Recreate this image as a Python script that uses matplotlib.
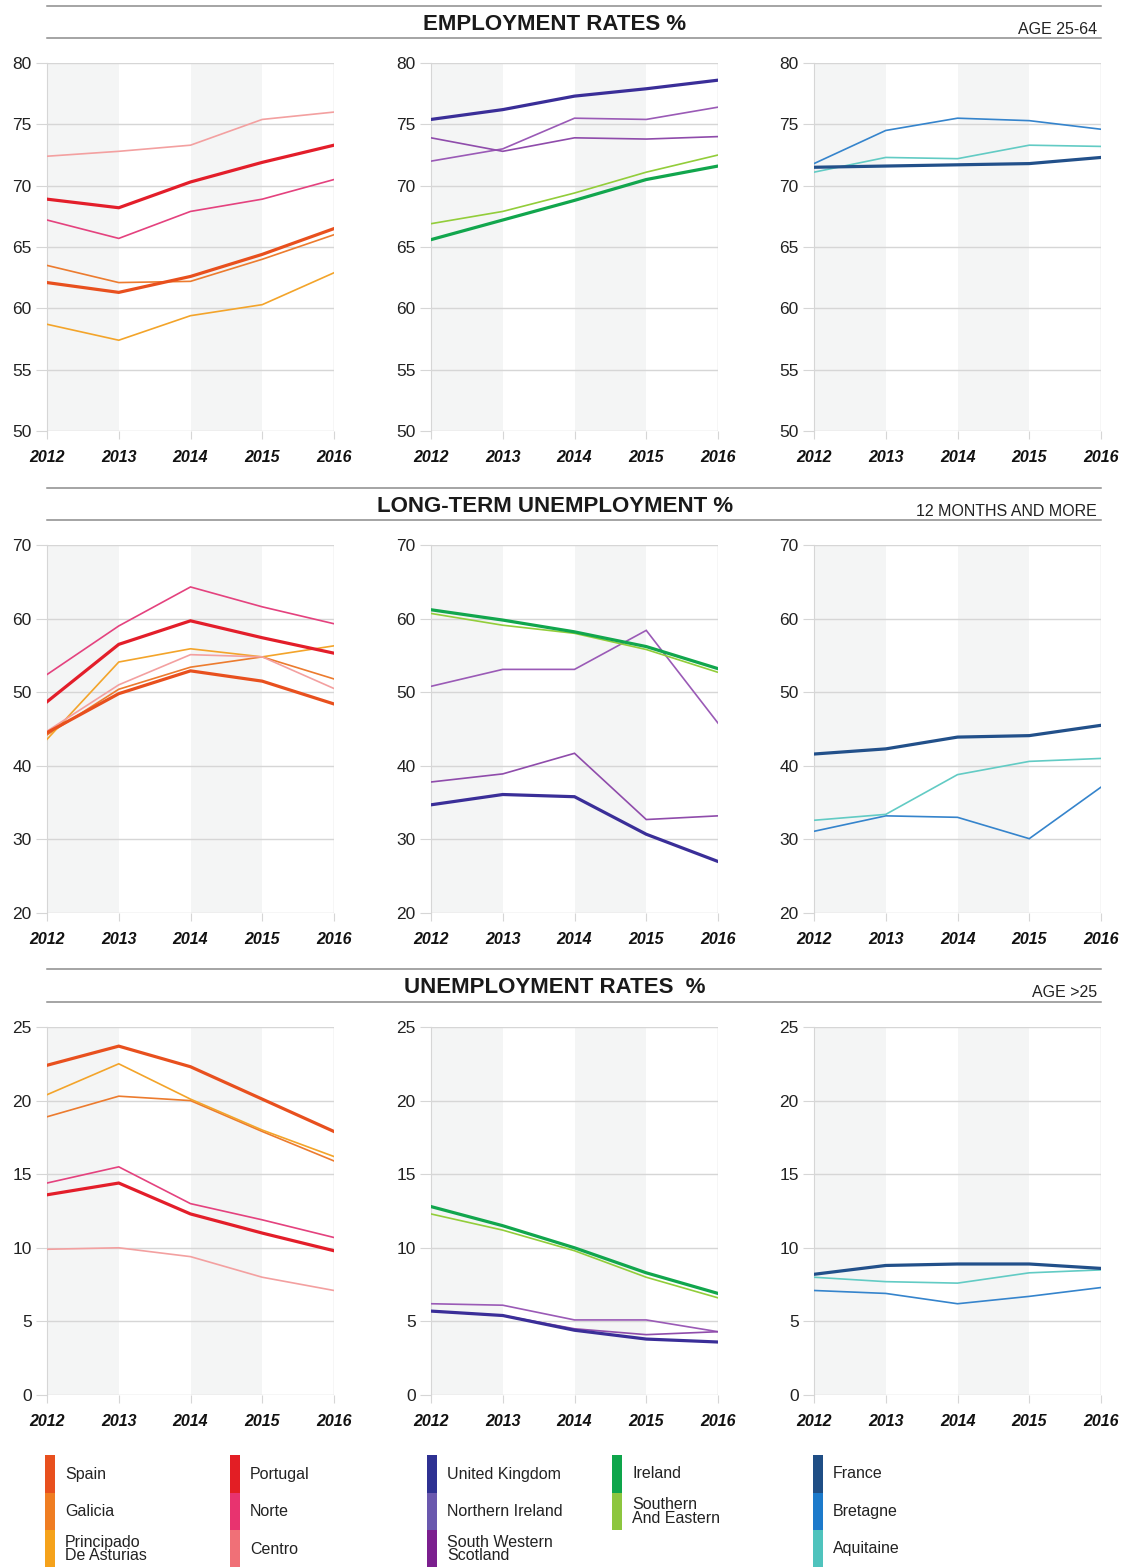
import matplotlib
matplotlib.use("Agg")
import matplotlib.pyplot as plt
from matplotlib.lines import Line2D
from matplotlib.patches import Rectangle

plt.rcParams['font.family'] = ['Liberation Sans', 'DejaVu Sans']
NARROW = ['Liberation Sans Narrow', 'Liberation Sans', 'DejaVu Sans']

years = [2012, 2013, 2014, 2015, 2016]

# --- employment rates %, age 25-64
emp_spain = [62.1, 61.3, 62.6, 64.4, 66.5]
emp_galicia = [63.5, 62.1, 62.2, 64.0, 66.0]
emp_asturias = [58.7, 57.4, 59.4, 60.3, 62.9]
emp_portugal = [68.9, 68.2, 70.3, 71.9, 73.3]
emp_norte = [67.2, 65.7, 67.9, 68.9, 70.5]
emp_centro = [72.4, 72.8, 73.3, 75.4, 76.0]
emp_uk = [75.4, 76.2, 77.3, 77.9, 78.6]
emp_nireland = [72.0, 73.0, 75.5, 75.4, 76.4]
emp_swscotland = [73.9, 72.8, 73.9, 73.8, 74.0]
emp_ireland = [65.6, 67.2, 68.8, 70.5, 71.6]
emp_southeast = [66.9, 67.9, 69.4, 71.1, 72.5]
emp_france = [71.5, 71.6, 71.7, 71.8, 72.3]
emp_bretagne = [71.8, 74.5, 75.5, 75.3, 74.6]
emp_aquitaine = [71.1, 72.3, 72.2, 73.3, 73.2]

# --- long-term unemployment %, 12 months and more
ltu_spain = [44.5, 49.8, 52.9, 51.5, 48.4]
ltu_galicia = [44.2, 50.4, 53.4, 54.8, 51.8]
ltu_asturias = [43.6, 54.1, 55.9, 54.8, 56.3]
ltu_portugal = [48.7, 56.5, 59.7, 57.4, 55.3]
ltu_norte = [52.4, 59.0, 64.3, 61.6, 59.3]
ltu_centro = [44.7, 51.0, 55.1, 54.8, 50.5]
ltu_uk = [34.7, 36.1, 35.8, 30.7, 27.0]
ltu_nireland = [50.8, 53.1, 53.1, 58.4, 45.8]
ltu_swscotland = [37.8, 38.9, 41.7, 32.7, 33.2]
ltu_ireland = [61.2, 59.8, 58.2, 56.2, 53.2]
ltu_southeast = [60.7, 59.1, 58.0, 55.8, 52.7]
ltu_france = [41.6, 42.3, 43.9, 44.1, 45.5]
ltu_bretagne = [31.1, 33.2, 33.0, 30.1, 37.1]
ltu_aquitaine = [32.6, 33.4, 38.8, 40.6, 41.0]

# --- unemployment rates %, age >25
unr_spain = [22.4, 23.7, 22.3, 20.1, 17.9]
unr_galicia = [18.9, 20.3, 20.0, 17.9, 15.9]
unr_asturias = [20.4, 22.5, 20.1, 18.0, 16.2]
unr_portugal = [13.6, 14.4, 12.3, 11.0, 9.8]
unr_norte = [14.4, 15.5, 13.0, 11.9, 10.7]
unr_centro = [9.9, 10.0, 9.4, 8.0, 7.1]
unr_uk = [5.7, 5.4, 4.4, 3.8, 3.6]
unr_nireland = [6.2, 6.1, 5.1, 5.1, 4.3]
unr_swscotland = [5.7, 5.4, 4.5, 4.1, 4.3]
unr_ireland = [12.8, 11.5, 10.0, 8.3, 6.9]
unr_southeast = [12.3, 11.2, 9.8, 8.0, 6.6]
unr_france = [8.2, 8.8, 8.9, 8.9, 8.6]
unr_bretagne = [7.1, 6.9, 6.2, 6.7, 7.3]
unr_aquitaine = [8.0, 7.7, 7.6, 8.3, 8.5]

titles = ['EMPLOYMENT RATES %', 'LONG-TERM UNEMPLOYMENT %', 'UNEMPLOYMENT RATES  %']
notes = ['AGE 25-64', '12 MONTHS AND MORE', 'AGE >25']
ylims = [(50, 80), (20, 70), (0, 25)]
ysteps = [5, 10, 5]

legend_names = [['Spain', 'Galicia', 'Principado\nDe Asturias'],
                ['Portugal', 'Norte', 'Centro'],
                ['United Kingdom', 'Northern Ireland', 'South Western\nScotland'],
                ['Ireland', 'Southern\nAnd Eastern'],
                ['France', 'Bretagne', 'Aquitaine']]
legend_colors = [['#e8501e', '#ef7d22', '#f5a21b'],
                 ['#e31e24', '#e8336f', '#f07077'],
                 ['#2e3192', '#6a58ae', '#7b1f8e'],
                 ['#0ea54b', '#8dc63f'],
                 ['#1f4e85', '#1c7acb', '#4fc3bd']]

# colours of the lines (thin ones are a bit paler)
c = {'spain': '#e8501e', 'galicia': '#ec7b2e', 'asturias': '#f3a42a',
     'portugal': '#e31e2a', 'norte': '#e4427e', 'centro': '#f3a0a0',
     'uk': '#3a2e98', 'nireland': '#9a5ab6', 'swscotland': '#8f4cab',
     'ireland': '#11a64d', 'southeast': '#92cd3a',
     'france': '#22508a', 'bretagne': '#3584cc', 'aquitaine': '#62cbc4'}

rows = [
    [[(emp_galicia, 'galicia', 1.2), (emp_asturias, 'asturias', 1.2), (emp_norte, 'norte', 1.2),
      (emp_centro, 'centro', 1.2), (emp_spain, 'spain', 2.3), (emp_portugal, 'portugal', 2.3)],
     [(emp_nireland, 'nireland', 1.2), (emp_swscotland, 'swscotland', 1.2), (emp_southeast, 'southeast', 1.2),
      (emp_uk, 'uk', 2.3), (emp_ireland, 'ireland', 2.3)],
     [(emp_bretagne, 'bretagne', 1.2), (emp_aquitaine, 'aquitaine', 1.2), (emp_france, 'france', 2.3)]],
    [[(ltu_galicia, 'galicia', 1.2), (ltu_asturias, 'asturias', 1.2), (ltu_norte, 'norte', 1.2),
      (ltu_centro, 'centro', 1.2), (ltu_spain, 'spain', 2.3), (ltu_portugal, 'portugal', 2.3)],
     [(ltu_nireland, 'nireland', 1.2), (ltu_swscotland, 'swscotland', 1.2), (ltu_southeast, 'southeast', 1.2),
      (ltu_uk, 'uk', 2.3), (ltu_ireland, 'ireland', 2.3)],
     [(ltu_bretagne, 'bretagne', 1.2), (ltu_aquitaine, 'aquitaine', 1.2), (ltu_france, 'france', 2.3)]],
    [[(unr_galicia, 'galicia', 1.2), (unr_asturias, 'asturias', 1.2), (unr_norte, 'norte', 1.2),
      (unr_centro, 'centro', 1.2), (unr_spain, 'spain', 2.3), (unr_portugal, 'portugal', 2.3)],
     [(unr_nireland, 'nireland', 1.2), (unr_swscotland, 'swscotland', 1.2), (unr_southeast, 'southeast', 1.2),
      (unr_uk, 'uk', 2.3), (unr_ireland, 'ireland', 2.3)],
     [(unr_bretagne, 'bretagne', 1.2), (unr_aquitaine, 'aquitaine', 1.2), (unr_france, 'france', 2.3)]],
]

W, H = 1125, 1567
fig = plt.figure(figsize=(W / 100, H / 100), dpi=100)

col_left = [47, 431, 814]
col_w = 287
row_top = [63, 545, 1027]
row_h = 368
head_lines = [(6, 38), (488, 520), (969, 1002)]
grey = '#d6d6d6'

for r in range(3):
    # header with two rules
    for yl in head_lines[r]:
        fig.add_artist(Line2D([47 / W, 1101 / W], [1 - yl / H, 1 - yl / H],
                              color='#8c8c8c', lw=1.1, transform=fig.transFigure))
    mid = (head_lines[r][0] + head_lines[r][1]) / 2
    fig.text(555 / W, 1 - (mid + 2) / H, titles[r], ha='center', va='center', fontsize=16,
             fontweight='bold', family=NARROW, color='#1a1a1a')
    fig.text(1097 / W, 1 - (mid + 7) / H, notes[r], ha='right', va='center', fontsize=11.5,
             family=NARROW, color='#222222')

    lo, hi = ylims[r]
    for p in range(3):
        ax = fig.add_axes([col_left[p] / W, 1 - (row_top[r] + row_h) / H, col_w / W, row_h / H])
        ax.axvspan(2012, 2013, color='#f4f5f5', zorder=0, lw=0)
        ax.axvspan(2014, 2015, color='#f4f5f5', zorder=0, lw=0)
        for vals, key, lw in rows[r][p]:
            ax.plot(years, vals, color=c[key], lw=lw, zorder=3, solid_joinstyle='miter')
        ax.set_xlim(2012, 2016)
        ax.set_ylim(lo, hi)
        ax.set_yticks(range(lo, hi + 1, ysteps[r]))
        ax.set_xticks(years)
        ax.set_xticklabels([str(y) for y in years], fontweight='bold', fontstyle='italic', fontsize=11.5)
        ax.grid(axis='y', color=grey, lw=1.0, zorder=1)
        ax.axvline(2016, color=grey, lw=1.0, zorder=1)
        for s in ['top', 'right', 'bottom']:
            ax.spines[s].set_visible(False)
        ax.spines['left'].set_color(grey)
        ax.tick_params(axis='y', length=8, color=grey, labelsize=12.5, pad=3, labelcolor='#222222')
        ax.tick_params(axis='x', length=6, color=grey, pad=8, labelcolor='#111111')
        ax.set_axisbelow(True)

# legend drawn in pixel coordinates
lax = fig.add_axes([0, 0, 1, 1], zorder=-1)
lax.set_xlim(0, W)
lax.set_ylim(H, 0)
lax.axis('off')
leg_x = [45, 230, 427, 612, 813]
for i, names in enumerate(legend_names):
    for j, name in enumerate(names):
        y0 = 1455 + j * 37.5
        lax.add_patch(Rectangle((leg_x[i], y0), 10, 37.5, color=legend_colors[i][j], lw=0))
        lax.text(leg_x[i] + 20, y0 + 19, name, ha='left', va='center', fontsize=11.5,
                 family=NARROW, color='#222222', linespacing=0.9)

fig.savefig('out.png', dpi=100)
